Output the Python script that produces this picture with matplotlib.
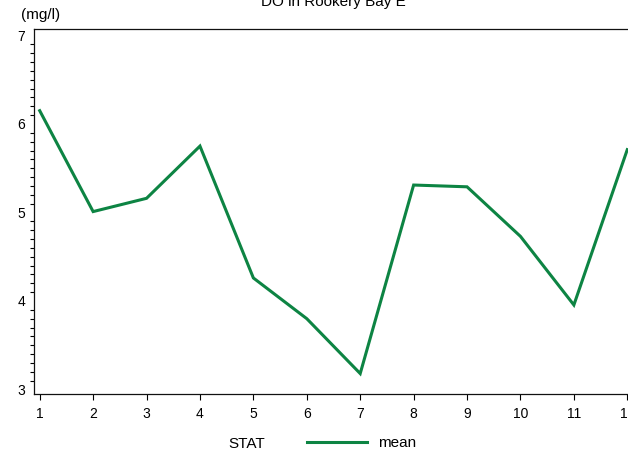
import numpy as np
import matplotlib.pyplot as plt
from matplotlib.lines import Line2D
from matplotlib.ticker import MultipleLocator

plt.rcParams['font.family'] = ['Liberation Sans', 'DejaVu Sans']
plt.rcParams['font.size'] = 10

# monthly mean DO (mg/l)
months = np.arange(1, 13)
do_mean = [6.15, 5.01, 5.16, 5.75, 4.26, 3.80, 3.18, 5.31, 5.29, 4.73, 3.955, 5.71]

W, H = 628, 455
fig = plt.figure(figsize=(W / 100, H / 100), dpi=100)
# axes runs a little past the right edge of the figure, as in the original
ax = fig.add_axes([34 / W, 1 - 394 / H, 599 / W, 365 / H])

green = '#0d8443'
ax.plot(months, do_mean, color=green, lw=2.2, solid_joinstyle='miter')

ax.set_xlim(0.893, 12.107)
ax.set_ylim(2.949, 7.073)
ax.set_xticks(months)
ax.set_yticks([3, 4, 5, 6, 7])
ax.yaxis.set_minor_locator(MultipleLocator(0.1))
ax.tick_params(axis='x', length=4.5, width=0.8, pad=5, labelsize=10)
ax.tick_params(axis='y', which='major', length=0, pad=6.5, labelsize=10)
ax.tick_params(axis='y', which='minor', length=3, width=0.8)
ax.tick_params(axis='x', which='minor', length=0)
for s in ax.spines.values():
    s.set_linewidth(0.9)
    s.set_color('#111111')

fig.text(0.5 * (34 + 633) / W, 1 - 2 / H, 'DO in Rookery Bay E', ha='center', va='center', fontsize=11)
fig.text(21 / W, 1 - 15 / H, '(mg/l)', ha='left', va='center', fontsize=11)

fig.text(228 / W, 1 - 444 / H, 'STAT', ha='left', va='center', fontsize=11)
handle = Line2D([], [], color=green, lw=2.2)
fig.legend([handle], ['mean'], loc='center left', bbox_to_anchor=(307 / W, 1 - 443 / H),
           frameon=False, borderpad=0, borderaxespad=0, handlelength=3.9, handletextpad=0.75,
           fontsize=11)

fig.savefig('out.png', dpi=100)
